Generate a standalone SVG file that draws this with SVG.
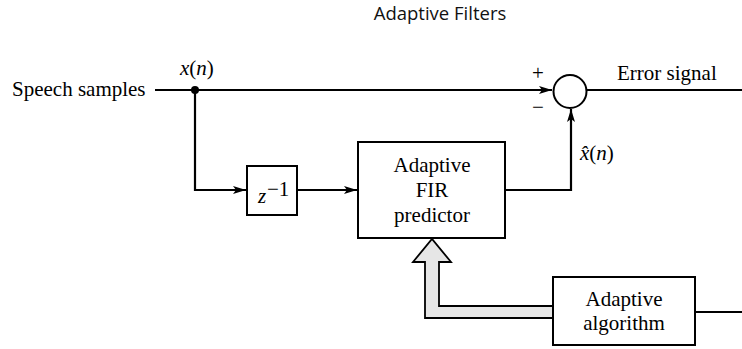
<svg xmlns="http://www.w3.org/2000/svg" width="742" height="349" viewBox="0 0 742 349">
<style>
.ln{stroke:#000;stroke-width:2.2;fill:none}
.box{stroke:#000;stroke-width:2;fill:#fff}
.t{font-family:"Liberation Serif","Times New Roman",serif;font-size:21px;fill:#000}
.c{text-anchor:middle}
.i{font-style:italic}
</style>
<defs>
<marker id="ah" markerWidth="14" markerHeight="10" refX="13" refY="5" orient="auto" markerUnits="userSpaceOnUse">
<path d="M0,1 L13,5 L0,9 L3,5 Z" fill="#000"/>
</marker>
</defs>
<text x="440" y="20" font-family="'Open Sans','Noto Sans',sans-serif" font-size="18.5" text-anchor="middle" fill="#111">Adaptive Filters</text>
<g id="connectors">
<line class="ln" x1="155" y1="90" x2="552" y2="90" marker-end="url(#ah)"/>
<polyline class="ln" points="195,90 195,190 246,190" marker-end="url(#ah)"/>
<line class="ln" x1="297" y1="190" x2="357" y2="190" marker-end="url(#ah)"/>
<polyline class="ln" points="505,190 571,190 571,109" marker-end="url(#ah)"/>
<line class="ln" x1="587" y1="90" x2="742" y2="90"/>
<line class="ln" x1="695" y1="312" x2="742" y2="312"/>
<path d="M553,306 L439,306 L439,262 L451,262 L432,239 L413,262 L425,262 L425,318 L553,318" fill="#e6e6e6" stroke="#000" stroke-width="1.8"/>
<circle cx="195" cy="90" r="4" fill="#000"/>
</g>
<g id="input">
<text class="t" x="12" y="96">Speech samples</text>
<text class="t i" x="180" y="75">x<tspan font-style="normal">(</tspan>n<tspan font-style="normal">)</tspan></text>
</g>
<g id="sum">
<circle cx="570" cy="91.5" r="16.5" fill="#fff" stroke="#000" stroke-width="2"/>
<text class="t" x="538" y="80" text-anchor="middle" font-size="24">+</text>
<text class="t" x="538" y="114" text-anchor="middle" font-size="24">−</text>
</g>
<g id="error">
<text class="t" x="617" y="80">Error signal</text>
</g>
<g id="xhat">
<text class="t i" x="580" y="160">x̂<tspan font-style="normal">(</tspan>n<tspan font-style="normal">)</tspan></text>
</g>
<g id="delay">
<rect class="box" x="247" y="166" width="50" height="49"/>
<text class="t i" x="258" y="203">z</text>
<text class="t" x="267" y="196" font-size="15">−1</text>
</g>
<g id="fir">
<rect class="box" x="358" y="142" width="147" height="96"/>
<text class="t c" x="432" y="172">Adaptive</text>
<text class="t c" x="432" y="197">FIR</text>
<text class="t c" x="432" y="222">predictor</text>
</g>
<g id="algorithm">
<rect class="box" x="553" y="277" width="142" height="68"/>
<text class="t c" x="624" y="306">Adaptive</text>
<text class="t c" x="624" y="330">algorithm</text>
</g>
</svg>
